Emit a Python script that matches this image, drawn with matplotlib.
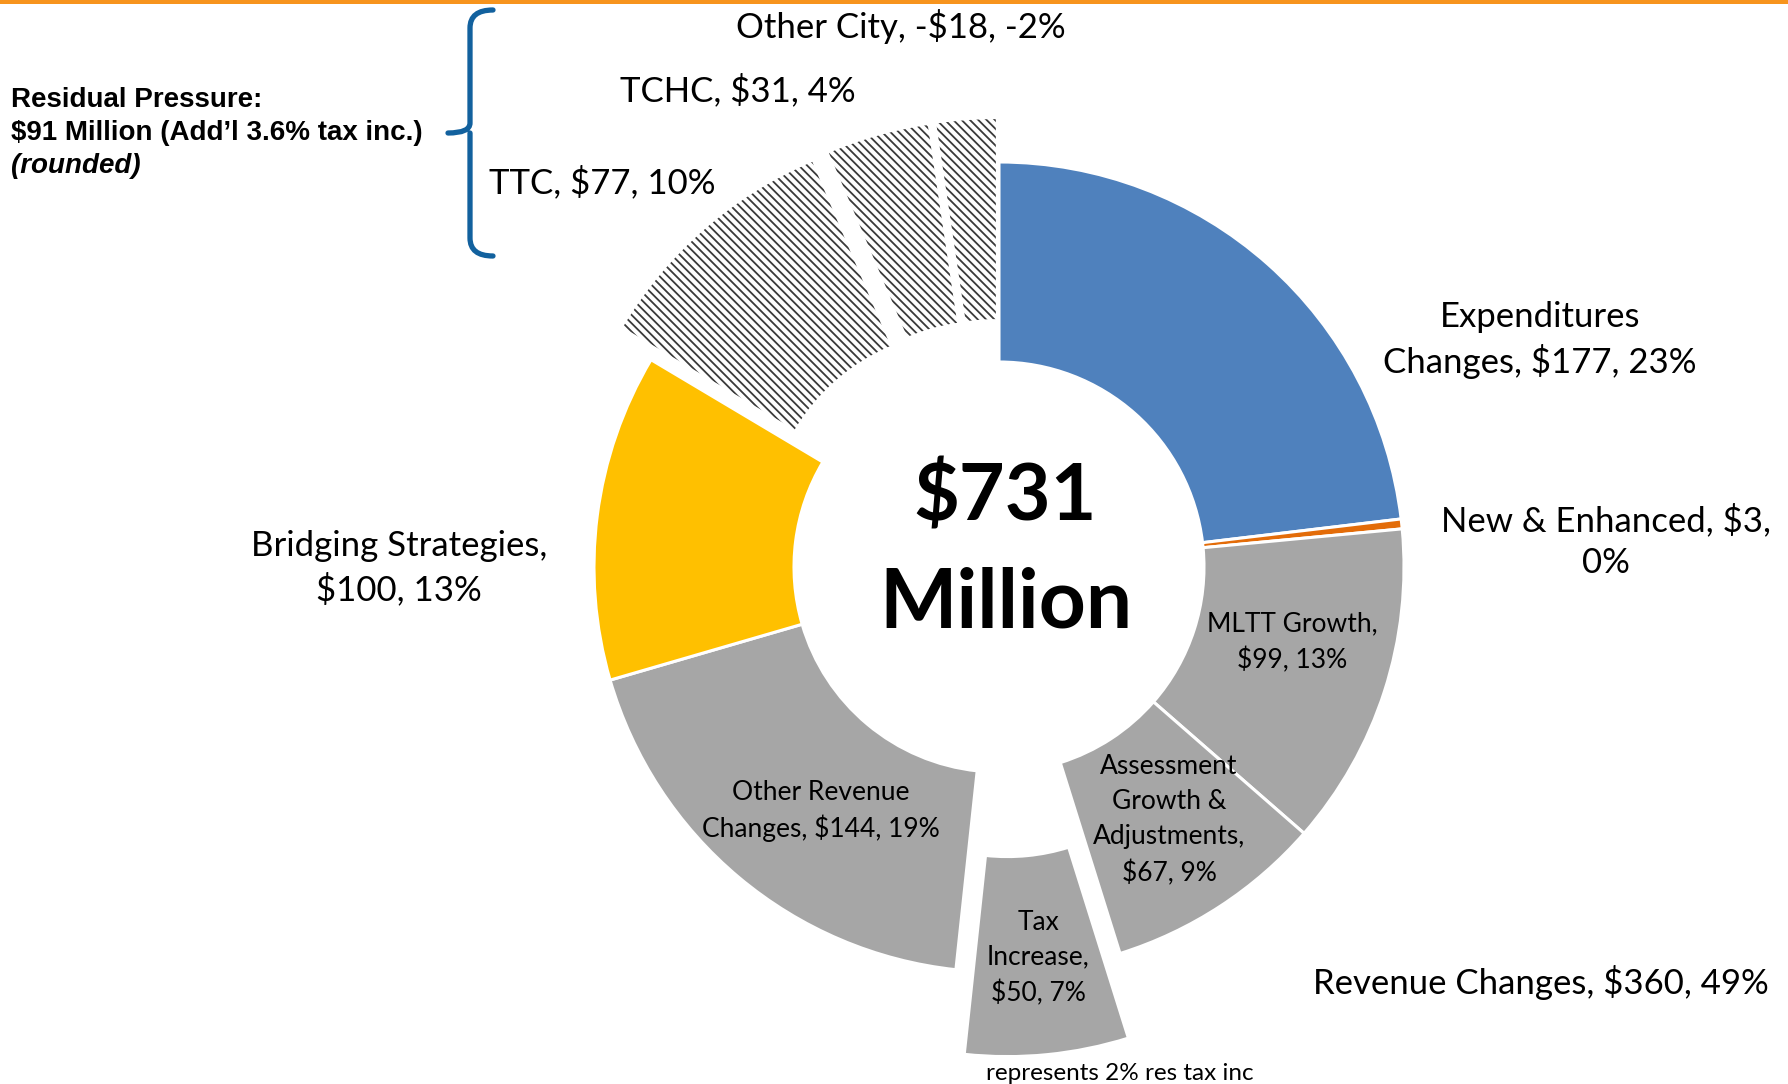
import matplotlib
matplotlib.use("Agg")
import matplotlib.pyplot as plt
from matplotlib.path import Path
from matplotlib.patches import PathPatch

# ---- data ----
categories = ["Expenditures Changes", "New & Enhanced", "MLTT Growth",
              "Assessment Growth & Adjustments", "Tax Increase",
              "Other Revenue Changes", "Bridging Strategies",
              "TTC", "TCHC", "Other City"]
values = [177, 3, 99, 67, 50, 144, 100, 77, 31, -18]
# how each label is wrapped on the chart
label_templates = ["Expenditures\nChanges, {v}, {p}",
                   "New & Enhanced, {v},\n{p}",
                   "MLTT Growth,\n{v}, {p}",
                   "Assessment\nGrowth &\nAdjustments,\n{v}, {p}",
                   "Tax\nIncrease,\n{v}, {p}",
                   "Other Revenue\nChanges, {v}, {p}",
                   "Bridging Strategies,\n{v}, {p}",
                   "TTC, {v}, {p}",
                   "TCHC, {v}, {p}",
                   "Other City, {v}, {p}"]
revenue_items = ["MLTT Growth", "Assessment Growth & Adjustments",
                 "Tax Increase", "Other Revenue Changes"]
residual_items = ["TTC", "TCHC", "Other City"]
total_pressure = 731
residual_pressure = 91
residual_tax_pct = 3.6
tax_note = "represents 2% res tax inc"

W, H = 1788, 1084
BLUE = "#4F81BD"
ORANGE = "#E36C09"
GRAY = "#A6A6A6"
YELLOW = "#FFC000"
colors = [BLUE, ORANGE, GRAY, GRAY, GRAY, GRAY, YELLOW, "white", "white", "white"]
explode = [0, 0, 0, 0, 85, 0, 0, 43, 43, 43]

plt.rcParams["hatch.linewidth"] = 1.3
FONT = "Lato"

fig = plt.figure(figsize=(W / 100, H / 100), dpi=100)
ax = fig.add_axes([0, 0, 1, 1])

sizes = [abs(v) for v in values]
total_drawn = sum(sizes)
cx, cy = 999, H - 567
r_out, r_in = 405, 205

wedges, _ = ax.pie(sizes, colors=colors, explode=explode, startangle=90,
                   counterclock=False, center=(cx, cy), radius=r_out,
                   wedgeprops=dict(width=r_out - r_in, edgecolor="white",
                                   linewidth=2.2))
for w, name in zip(wedges, categories):
    if name in residual_items:
        w.set_edgecolor("#3a3a3a")
        w.set_linewidth(0)
        w.set_hatch("\\\\\\\\")

ax.set_xlim(0, W)
ax.set_ylim(0, H)
ax.set_aspect("equal")
ax.axis("off")


def money(v):
    return ("-" if v < 0 else "") + "${}".format(abs(v))


labels = [t.format(v=money(v), p="{}%".format(round(v / total_drawn * 100)))
          for t, v in zip(label_templates, values)]

# label anchor points (image px, y from top), font size, line spacing
label_pos = [(1540, 340, 25, 1.36), (1606, 541, 25, 1.36),
             (1292, 642, 19, 1.5), (1169, 820, 19, 1.5),
             (1038, 958, 19, 1.5), (821, 811, 19, 1.45),
             (399, 568, 25, 1.36), (602, 182, 25, 1.3),
             (738, 90, 25, 1.3), (901, 26, 25, 1.3)]
for lab, (x, y, fs, ls) in zip(labels, label_pos):
    ax.text(x, H - y, lab, ha="center", va="center", fontsize=fs,
            family=FONT, linespacing=ls)

rev_total = sum(v for c, v in zip(categories, values) if c in revenue_items)
ax.text(1541, H - 982,
        "Revenue Changes, {}, {}%".format(money(rev_total),
                                          round(rev_total / total_pressure * 100)),
        ha="center", va="center", fontsize=25, family=FONT)
ax.text(1120, H - 1073, tax_note, ha="center", va="center",
        fontsize=17.5, family=FONT)

# centre total
ax.text(1005, H - 498, "${}".format(total_pressure), ha="center", va="center",
        fontsize=57, fontweight="bold", family=FONT)
ax.text(1006, H - 604, "Million", ha="center", va="center",
        fontsize=59, fontweight="bold", family=FONT)

# residual pressure note + brace
ax.text(11, H - 100, "Residual Pressure:", ha="left", va="center",
        fontsize=20, fontweight="bold", family="Liberation Sans")
ax.text(11, H - 133,
        "${} Million (Add\u2019l {}% tax inc.)".format(residual_pressure,
                                                     residual_tax_pct),
        ha="left", va="center", fontsize=20, fontweight="bold",
        family="Liberation Sans")
ax.text(11, H - 166, "(rounded)", ha="left", va="center", fontsize=20,
        fontweight="bold", style="italic", family="Liberation Sans")

bx, tip_x, tip_y, top_y, bot_y, end_x = 470, 448, 133, 10, 256, 493
verts = [(end_x, H - top_y), (bx, H - top_y), (bx, H - top_y - 18),
         (bx, H - tip_y + 10), (bx, H - tip_y), (tip_x, H - tip_y),
         (bx, H - tip_y), (bx, H - tip_y - 10),
         (bx, H - bot_y + 18), (bx, H - bot_y), (end_x, H - bot_y)]
codes = [Path.MOVETO, Path.CURVE3, Path.CURVE3, Path.LINETO, Path.CURVE3,
         Path.CURVE3, Path.MOVETO, Path.LINETO, Path.LINETO, Path.CURVE3,
         Path.CURVE3]
ax.add_patch(PathPatch(Path(verts, codes), fill=False, edgecolor="#12619E",
                       linewidth=3.8, capstyle="round"))

# orange rule at top
ax.axhspan(H - 4, H, color="#F7941D", lw=0)

fig.savefig("out.png", dpi=100)
